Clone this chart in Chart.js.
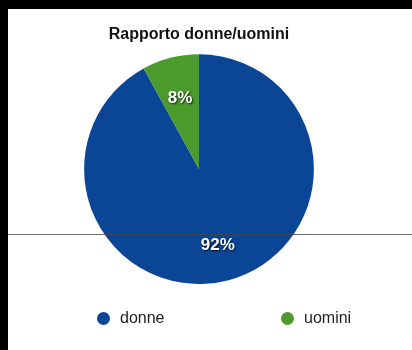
<!DOCTYPE html>
<html lang="it">
<head>
    <meta charset="UTF-8">
    <meta name="viewport" content="width=device-width, initial-scale=1.0">
    <title>Rapporto donne/uomini</title>
    <style>
        html, body { margin: 0; padding: 0; background: #000; }
        .frame {
            position: absolute; left: 8px; top: 9px;
            width: 404px; height: 341px; background: #fff;
            font-family: "Liberation Sans", Arial, Helvetica, sans-serif;
        }
        .chart-box { position: absolute; left: 0; top: 0; width: 404px; height: 341px; }
        #legend { position: absolute; left: 89px; top: 300px; display: flex; }
        .legend-item { width: 184px; display: flex; align-items: center; font-size: 16px; color: #222; }
        .legend-dot { width: 13px; height: 13px; border-radius: 50%; margin-right: 10px; }
    </style>
    <script src="https://cdn.jsdelivr.net/npm/chart.js"></script>
</head>
<body>
    <div class="frame">
        <div class="chart-box"><canvas id="ratioChart"></canvas></div>
        <div id="legend"></div>
    </div>
    <script>
        // Data
        const labels = ['donne', 'uomini'];
        const percentages = [92, 8];
        const colors = ['#0b4596', '#4b9a2c'];
        const chartTitle = 'Rapporto donne/uomini';

        // Percent labels inside the slices, white with a dark shadow
        const sliceLabels = {
            id: 'sliceLabels',
            afterDatasetsDraw(chart) {
                const ctx = chart.ctx;
                const meta = chart.getDatasetMeta(0);
                // thin grey rule across the whole panel
                ctx.save();
                ctx.strokeStyle = 'rgba(70,70,70,0.8)';
                ctx.lineWidth = 1;
                ctx.beginPath();
                ctx.moveTo(0, 225.5);
                ctx.lineTo(chart.width, 225.5);
                ctx.stroke();
                ctx.restore();

                ctx.save();
                ctx.font = 'bold 17px "Liberation Sans", Arial, sans-serif';
                ctx.textAlign = 'center';
                ctx.textBaseline = 'middle';
                ctx.fillStyle = '#fff';
                ctx.shadowColor = 'rgba(0,0,0,0.8)';
                ctx.shadowOffsetX = 1;
                ctx.shadowOffsetY = 1;
                ctx.shadowBlur = 2;
                meta.data.forEach((arc, i) => {
                    const p = arc.getProps(['x', 'y', 'startAngle', 'endAngle', 'outerRadius'], true);
                    const mid = (p.startAngle + p.endAngle) / 2;
                    const r = p.outerRadius * 0.66;
                    ctx.fillText(percentages[i] + '%', p.x + Math.cos(mid) * r, p.y + Math.sin(mid) * r + 2.5);
                });
                ctx.restore();
            }
        };

        new Chart(document.getElementById('ratioChart'), {
            type: 'pie',
            data: {
                labels: labels,
                datasets: [{
                    data: percentages,
                    backgroundColor: colors,
                    borderWidth: 0,
                    hoverOffset: 0
                }]
            },
            options: {
                responsive: true,
                maintainAspectRatio: false,
                animation: false,
                layout: { padding: { left: 76, right: 98, top: 0, bottom: 66 } },
                plugins: {
                    legend: { display: false },
                    tooltip: { enabled: false },
                    title: {
                        display: true,
                        text: chartTitle,
                        color: '#111',
                        font: { family: '"Liberation Sans", Arial, sans-serif', size: 16, weight: 'bold', lineHeight: 1.2 },
                        padding: { top: 16, bottom: 10 }
                    }
                }
            },
            plugins: [sliceLabels]
        });

        // HTML legend built from the same arrays
        const legend = document.getElementById('legend');
        labels.forEach((name, i) => {
            const item = document.createElement('div');
            item.className = 'legend-item';
            const dot = document.createElement('span');
            dot.className = 'legend-dot';
            dot.style.background = colors[i];
            item.appendChild(dot);
            item.appendChild(document.createTextNode(name));
            legend.appendChild(item);
        });
    </script>
</body>
</html>
